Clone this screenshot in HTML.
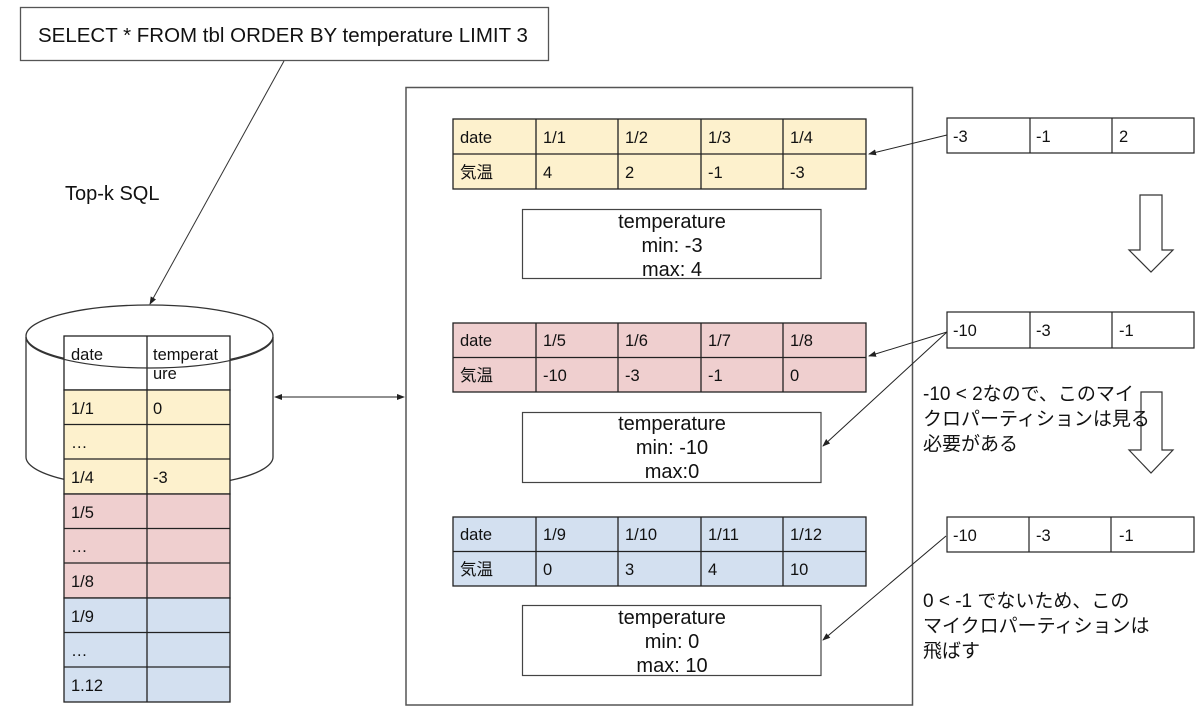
<!DOCTYPE html>
<html><head><meta charset="utf-8"><style>
html,body{margin:0;padding:0;background:#fff;}
svg{display:block;}
text{font-family:"Liberation Sans","Noto Sans CJK JP",sans-serif;fill:#111;}
.c{font-size:16.5px;}
.s{font-size:20px;text-anchor:middle;}
.j{font-size:19px;}
</style></head><body>
<svg width="1200" height="719" viewBox="0 0 1200 719" xmlns="http://www.w3.org/2000/svg">
<defs>
<marker id="a" markerWidth="8" markerHeight="6" refX="7" refY="3" orient="auto" markerUnits="userSpaceOnUse">
<path d="M0,0 L8,3 L0,6 z" fill="#222"/></marker>
</defs>
<g stroke="#333" stroke-width="1.3" fill="none">
<rect x="20.5" y="7.5" width="528" height="53" fill="#fff" stroke="#555"/>
<line x1="284" y1="61" x2="150" y2="304" marker-end="url(#a)" stroke-width="1"/>
<path d="M26,337 L26,457 A123.5,31 0 0 0 273,457 L273,337" fill="#fff"/>
<ellipse cx="149.5" cy="336" rx="123.5" ry="31" fill="#fff"/>
</g>
<text x="38" y="42" style="font-size:20.5px">SELECT * FROM tbl ORDER BY temperature LIMIT 3</text>
<text x="65" y="200" style="font-size:20px">Top-k SQL</text>
<g stroke="#222" stroke-width="1.3">
<rect x="64" y="336" width="166" height="54" fill="#fff"/>
<rect x="64" y="390" width="166" height="104" fill="#fdf1cd"/>
<rect x="64" y="494" width="166" height="104" fill="#efcfcf"/>
<rect x="64" y="598" width="166" height="104" fill="#d3e0f0"/>
<line x1="64" y1="424.5" x2="230" y2="424.5"/><line x1="64" y1="459" x2="230" y2="459"/>
<line x1="64" y1="528.5" x2="230" y2="528.5"/><line x1="64" y1="563" x2="230" y2="563"/>
<line x1="64" y1="632.5" x2="230" y2="632.5"/><line x1="64" y1="667" x2="230" y2="667"/>
<line x1="147" y1="336" x2="147" y2="702"/>
</g>
<path d="M26,337 A123.5,31 0 0 0 273,337" stroke="#333" stroke-width="1.2" fill="none"/>
<g class="c">
<text x="71" y="360">date</text><text x="153" y="360">temperat</text><text x="153" y="379">ure</text>
<text x="71" y="414">1/1</text><text x="153" y="414">0</text>
<text x="71" y="448">…</text>
<text x="71" y="483">1/4</text><text x="153" y="483">-3</text>
<text x="71" y="518">1/5</text><text x="71" y="552">…</text><text x="71" y="587">1/8</text>
<text x="71" y="622">1/9</text><text x="71" y="656">…</text><text x="71" y="691">1.12</text>
</g>
<line x1="280" y1="397" x2="399" y2="397" stroke="#222" stroke-width="1"/>
<path d="M274,397 L282,394 L282,400 z" fill="#222"/>
<path d="M405,397 L397,394 L397,400 z" fill="#222"/>
<rect x="406" y="87.5" width="506.5" height="617.5" fill="none" stroke="#555" stroke-width="1.5"/>
<g stroke="#222" stroke-width="1.3">
<rect x="453" y="119" width="413" height="70" fill="#fdf1cd"/>
<rect x="453" y="323" width="413" height="69" fill="#efcfcf"/>
<rect x="453" y="517" width="413" height="69" fill="#d3e0f0"/>
<line x1="453" y1="154" x2="866" y2="154"/><line x1="453" y1="357.5" x2="866" y2="357.5"/><line x1="453" y1="551.5" x2="866" y2="551.5"/>
<path d="M536,119V189M618,119V189M701,119V189M783,119V189M536,323V392M618,323V392M701,323V392M783,323V392M536,517V586M618,517V586M701,517V586M783,517V586"/>
</g>
<g class="c">
<text x="460" y="143">date</text><text x="543" y="143">1/1</text><text x="625" y="143">1/2</text><text x="708" y="143">1/3</text><text x="790" y="143">1/4</text>
<text x="460" y="178">気温</text><text x="543" y="178">4</text><text x="625" y="178">2</text><text x="708" y="178">-1</text><text x="790" y="178">-3</text>
<text x="460" y="346">date</text><text x="543" y="346">1/5</text><text x="625" y="346">1/6</text><text x="708" y="346">1/7</text><text x="790" y="346">1/8</text>
<text x="460" y="381">気温</text><text x="543" y="381">-10</text><text x="625" y="381">-3</text><text x="708" y="381">-1</text><text x="790" y="381">0</text>
<text x="460" y="540">date</text><text x="543" y="540">1/9</text><text x="625" y="540">1/10</text><text x="708" y="540">1/11</text><text x="790" y="540">1/12</text>
<text x="460" y="575">気温</text><text x="543" y="575">0</text><text x="625" y="575">3</text><text x="708" y="575">4</text><text x="790" y="575">10</text>
</g>
<g fill="#fff" stroke="#444" stroke-width="1.2">
<rect x="522.5" y="209.5" width="298.5" height="69"/>
<rect x="522.5" y="412.5" width="298.5" height="70"/>
<rect x="522.5" y="605.5" width="298.5" height="70"/>
</g>
<g class="s">
<text x="672" y="228">temperature</text><text x="672" y="252">min: -3</text><text x="672" y="276">max: 4</text>
<text x="672" y="430">temperature</text><text x="672" y="454">min: -10</text><text x="672" y="478">max:0</text>
<text x="672" y="624">temperature</text><text x="672" y="648">min: 0</text><text x="672" y="672">max: 10</text>
</g>
<g fill="#fff" stroke="#222" stroke-width="1.2">
<rect x="947" y="118" width="247" height="35"/>
<rect x="947" y="312" width="247" height="36"/>
<rect x="947" y="517" width="247" height="35"/>
<path d="M1030,118V153M1112,118V153M1030,312V348M1112,312V348M1029,517V552M1111,517V552"/>
</g>
<g class="c">
<text x="953" y="142">-3</text><text x="1036" y="142">-1</text><text x="1119" y="142">2</text>
<text x="953" y="336">-10</text><text x="1036" y="336">-3</text><text x="1119" y="336">-1</text>
<text x="953" y="541">-10</text><text x="1036" y="541">-3</text><text x="1119" y="541">-1</text>
</g>
<g stroke="#222" stroke-width="1">
<line x1="947" y1="135" x2="869" y2="154" marker-end="url(#a)"/>
<line x1="947" y1="332" x2="869" y2="356" marker-end="url(#a)"/>
<line x1="947" y1="332" x2="823" y2="446" marker-end="url(#a)"/>
<line x1="946" y1="536" x2="823" y2="640" marker-end="url(#a)"/>
</g>
<g fill="#fff" stroke="#333" stroke-width="1.2">
<path d="M1140,195 H1162 V250 H1173 L1151,272 L1129,250 H1140 Z"/>
<path d="M1141,392 H1162 V450 H1173 L1151,473 L1129,450 H1141 Z"/>
</g>
<g class="j">
<text x="923" y="400">-10 &lt; 2なので、このマイ</text>
<text x="923" y="425">クロパーティションは見る</text>
<text x="923" y="450">必要がある</text>
<text x="923" y="607">0 &lt; -1 でないため、この</text>
<text x="923" y="632">マイクロパーティションは</text>
<text x="923" y="657">飛ばす</text>
</g>
</svg>
</body></html>
